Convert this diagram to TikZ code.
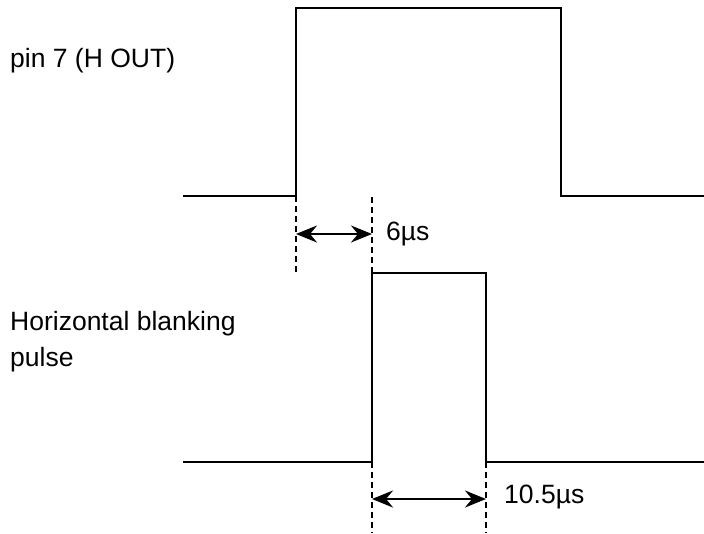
\documentclass[tikz,border=0pt]{standalone}
\usepackage{fontspec}
\setmainfont{Liberation Sans}
\usetikzlibrary{arrows.meta,positioning,calc}

\begin{document}
\begin{tikzpicture}[x=1pt,y=-1pt,
  wave/.style={line width=2.6pt,line join=miter},
  guide/.style={line width=1.1pt,dash pattern=on 6pt off 4pt},
  span/.style={{Stealth[length=21pt,width=17pt,inset=7pt]}-{Stealth[length=21pt,width=17pt,inset=7pt]},line width=2.6pt},
  lbl/.style={font=\fontsize{26.5}{36}\selectfont,inner sep=0pt,anchor=base west,align=left}]
\useasboundingbox (0,0) rectangle (704,533);
% H OUT waveform
\coordinate (h0) at (183,196);
\coordinate (h1) at (296,196);
\coordinate (h2) at (296,8);
\coordinate (h3) at (561,8);
\coordinate (h4) at (561,196);
\coordinate (h5) at (704,196);
\draw[wave](h0)--(h1)--(h2)--(h3)--(h4)--(h5);
% blanking pulse
\coordinate (b0) at (183,462);
\coordinate (b1) at (372,462);
\coordinate (b2) at (372,273);
\coordinate (b3) at (486,273);
\coordinate (b4) at (486,462);
\coordinate (b5) at (704,462);
\draw[wave](b0)--(b1)--(b2)--(b3)--(b4)--(b5);
% guides
\coordinate (g1) at (296,273);
\coordinate (g2) at (372,197);
\coordinate (g3) at (372,533);
\coordinate (g4) at (486,533);
\draw[guide](h1)--(g1);\draw[guide](g2)--(b2);
\draw[guide](b1)--(g3);\draw[guide](b4)--(g4);
% spans
\coordinate (a1) at (296,234);\coordinate (a2) at (372,234);
\coordinate (a3) at (372,499);\coordinate (a4) at (486,499);
\draw[span](a1)--(a2);
\draw[span](a3)--(a4);
\node[lbl] (t6) at (386,240){6µs};
\node[lbl] (t105) at (504,503){10.5µs};
\node[lbl] (hout) at (10,67){pin 7 (H OUT)};
\node[lbl] (hblk) at (10,366){Horizontal blanking\\pulse};
\end{tikzpicture}
\end{document}
